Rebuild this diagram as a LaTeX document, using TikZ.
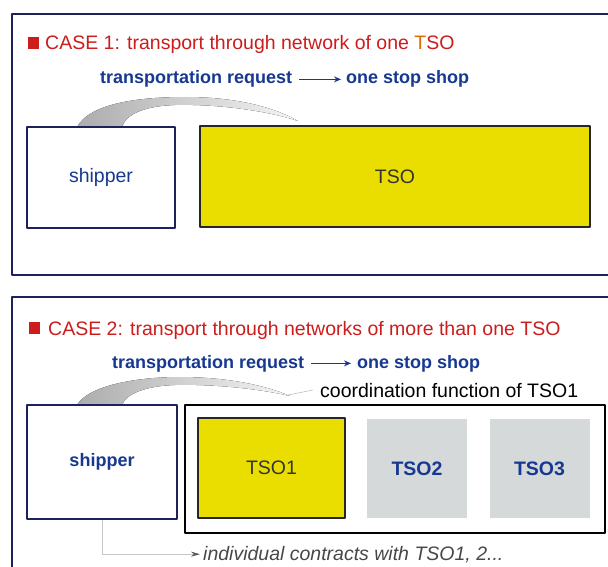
\documentclass[tikz,border=0pt]{standalone}
\usepackage{fontspec}
\setmainfont{Liberation Sans}
\usetikzlibrary{positioning,arrows.meta}
\definecolor{caseRed}{RGB}{204,28,28}
\definecolor{reqBlue}{RGB}{22,56,145}
\definecolor{navy}{RGB}{30,34,90}
\definecolor{tsoYellow}{RGB}{234,222,0}
\definecolor{tsoGrey}{RGB}{214,217,217}
\begin{document}
\begin{tikzpicture}[x=1pt,y=-1pt,>=Stealth, line join=round,
	txt/.style={inner sep=0, font=\fontsize{19.5}{22}\selectfont},
	title/.style={txt, text=caseRed, anchor=base west},
	req/.style={inner sep=0, font=\bfseries\fontsize{18}{22}\selectfont, text=reqBlue, anchor=base west},
	reqarrow/.style={-{Stealth[length=7pt,width=6pt]}, reqBlue, line width=1.3pt},
	shipbox/.style={txt, draw=navy, line width=1.8pt, fill=white, text=reqBlue},
	tsobox/.style={txt, draw=black!85, line width=1.8pt, fill=tsoYellow, text=black!80},
	greybox/.style={fill=tsoGrey, inner sep=0, minimum width=100pt, minimum height=99pt, text=reqBlue, font=\bfseries\fontsize{19.5}{22}\selectfont},
	frame/.style={navy, line width=1.6pt},
	swoosh/.style={left color=gray!65, right color=gray!8, draw=none},
	redsq/.style={fill=caseRed, minimum width=11pt, minimum height=12pt, inner sep=0}]
	\useasboundingbox (0,0) rectangle (608,567);
	% case 1
	\draw[frame] (620,14) -- (12,14) -- (12,275) -- (620,275);
	\node[redsq] (sq1) at (33.5,43) {};
	\node[title] (case1title) at (45,50) {CASE 1: transport through network of one {\color{orange!85!black}T}SO};
	\node[req] (req1) at (100,84) {transportation request};
	\node[req] (stop1) at (346,84) {one stop shop};
	\draw[reqarrow, shorten <=7pt, shorten >=5pt] (req1.east) -- (stop1.west);
	\fill[swoosh] (77,127) .. controls (90,103) and (140,97) .. (185,97)
		.. controls (230,97) and (270,105) .. (298,121)
		.. controls (265,110) and (215,104) .. (175,105)
		.. controls (145,106) and (126,114) .. (122,127) -- cycle;
	\node[shipbox, minimum width=148pt, minimum height=101pt] (shipper1) at (101,177.5) {shipper};
	\node[tsobox, minimum width=390pt, minimum height=101pt] (tso) at (395,176.5) {TSO};
	% case 2
	\draw[frame] (620,297) -- (12,297) -- (12,580);
	\node[redsq] (sq2) at (34,328) {};
	\node[title] (case2title) at (48,335) {CASE 2: transport through networks of more than one TSO};
	\node[req] (req2) at (112,368) {transportation request};
	\node[req] (stop2) at (357,368) {one stop shop};
	\draw[reqarrow, shorten <=7pt, shorten >=6pt] (req2.east) -- (stop2.west);
	\node[txt, anchor=base west] (coordlabel) at (320,397) {coordination function of TSO1};
	\fill[swoosh] (77,405) .. controls (88,386) and (135,377) .. (180,377)
		.. controls (225,377) and (265,385) .. (290,396)
		.. controls (260,389) and (215,384) .. (175,385)
		.. controls (145,386) and (126,394) .. (122,405) -- cycle;
	\draw[gray!50, line width=0.6pt] (288,395) -- ([xshift=-7pt]coordlabel.west);
	\node[shipbox, minimum width=150pt, minimum height=114pt, font=\bfseries\fontsize{18}{22}\selectfont] (shipper2) at (102,462) {shipper};
	\node[draw=black, line width=1.8pt, minimum width=420pt, minimum height=128pt] (coordbox) at (395,469) {};
	\node[tsobox, minimum width=147pt, minimum height=100pt] (tso1) at (271.5,468) {TSO1};
	\node[greybox] (tso2) at (417,468.5) {TSO2};
	\node[greybox] (tso3) at (539.5,468.5) {TSO3};
	\node[txt, font=\itshape\fontsize{19.5}{22}\selectfont, text=black!72, anchor=base west] (contracts) at (203,560) {individual contracts with TSO1, 2...};
	\draw[gray!45, line width=0.8pt, -{Stealth[length=9pt,width=5pt,color=black!65]}, shorten >=3pt] (shipper2.south) |- (contracts.west);
\end{tikzpicture}
\end{document}
